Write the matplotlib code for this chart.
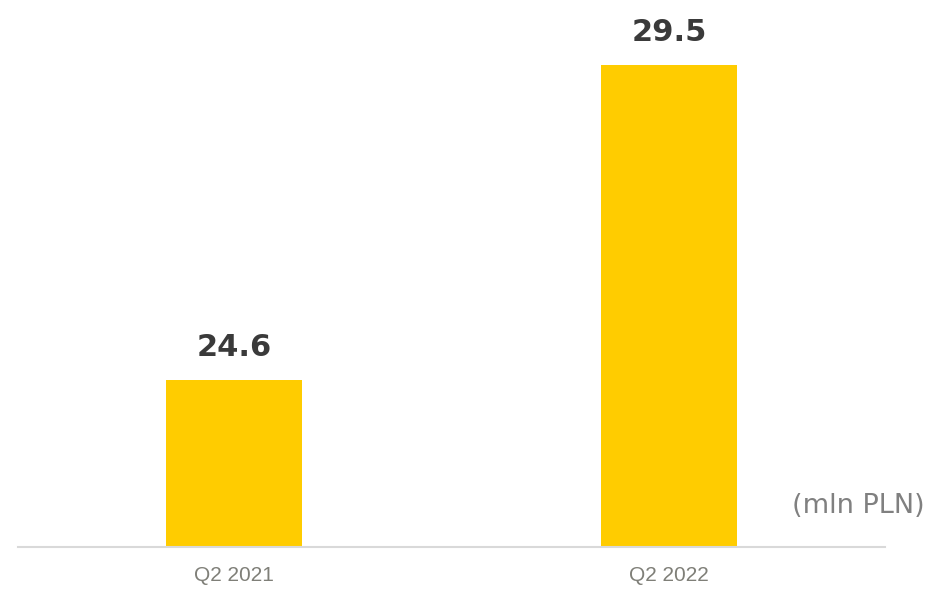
import matplotlib
matplotlib.use("Agg")
import matplotlib.pyplot as plt

quarters = ["Q2 2021", "Q2 2022"]
values = [24.6, 29.5]
unit_label = "(mln PLN)"

BAR_COLOR = "#FFCC00"
LABEL_COLOR = "#3a3a3a"
TICK_COLOR = "#7f7f78"

fig = plt.figure(figsize=(9.29, 5.89), dpi=100)
ax = fig.add_axes([18 / 929, 42 / 589, (885 - 18) / 929, (589 - 42) / 589])

x = range(len(quarters))
bars = ax.bar(x, values, width=0.313, color=BAR_COLOR, zorder=2)

ax.set_xlim(-0.497, 1.497)
ax.set_ylim(22.0, 30.51)

# value labels above each bar
for rect, v in zip(bars, values):
    ax.annotate(f"{v:.1f}", (rect.get_x() + rect.get_width() / 2, v),
                xytext=(0, 18), textcoords="offset pixels",
                ha="center", va="bottom", fontsize=22, fontweight="bold",
                color=LABEL_COLOR, family="DejaVu Sans")

for s in ["top", "right", "left"]:
    ax.spines[s].set_visible(False)
ax.spines["bottom"].set_color("#d9d9d9")
ax.spines["bottom"].set_linewidth(1.5)
ax.spines["bottom"].set_zorder(3)

ax.set_yticks([])
ax.set_xticks(list(x))
ax.set_xticklabels(quarters, fontsize=15, color=TICK_COLOR, family="Liberation Sans")
ax.tick_params(axis="x", length=0, pad=14)

fig.text(925 / 929, (589 - 506) / 589, unit_label, ha="right", va="center",
         fontsize=19.5, color="#808080", family="DejaVu Sans")

fig.savefig("out.png", dpi=100)
